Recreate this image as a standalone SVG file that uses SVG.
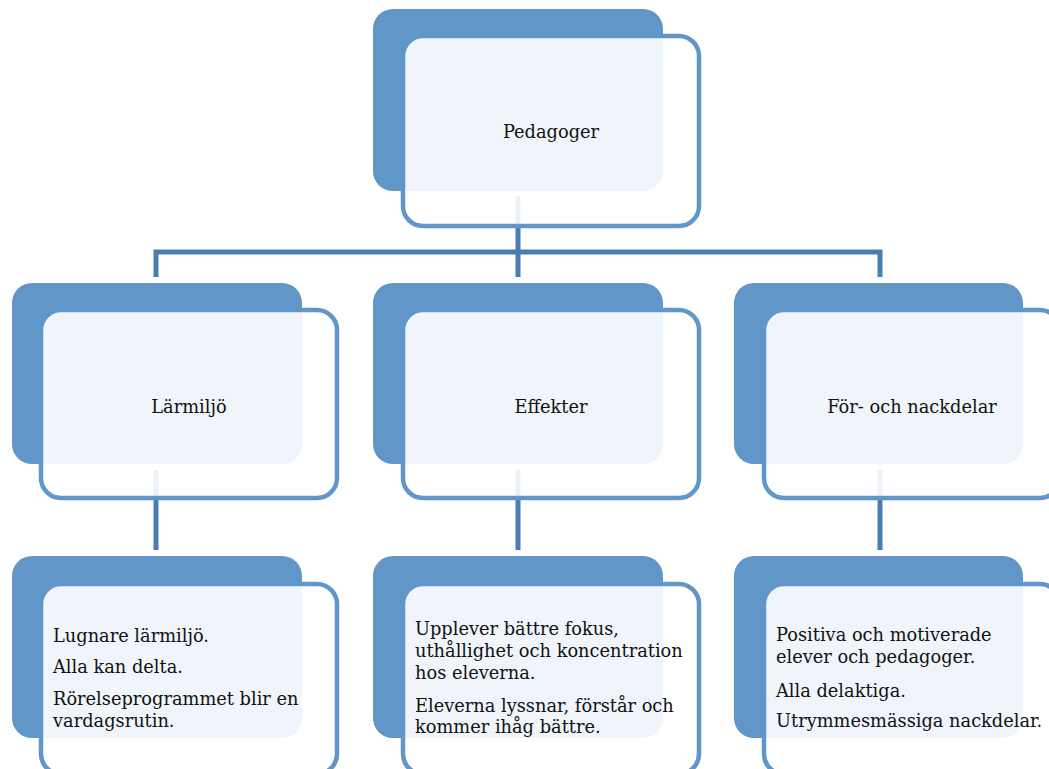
<svg xmlns="http://www.w3.org/2000/svg" width="1049" height="769" viewBox="0 0 1049 769">
<style>
.back{fill:#6196c9}
.front{fill:#ffffff;fill-opacity:0.9;stroke:#6196c9;stroke-width:4.5}
.conn{fill:none;stroke:#4a7eb3;stroke-width:5}
.t{font-family:"DejaVu Serif","Liberation Serif",serif;font-size:17.8px;fill:#111}
.c{text-anchor:middle}
</style>
<rect width="1049" height="769" fill="#ffffff"/>
<g id="connectors">
<path class="conn" d="M518,196 V252"/>
<path class="conn" d="M156,277 V252 H880 V277"/>
<path class="conn" d="M518,252 V277"/>
<path class="conn" d="M156,470 V550"/>
<path class="conn" d="M518,470 V550"/>
<path class="conn" d="M880,470 V550"/>
</g>
<g id="pedagoger">
<rect class="back" x="373" y="9" width="290" height="182" rx="20"/>
<rect class="front" x="403" y="36" width="296" height="190" rx="20"/>
<text class="t c" x="551" y="138">Pedagoger</text>
</g>
<g id="larmiljo">
<rect class="back" x="12" y="283" width="290" height="181" rx="20"/>
<rect class="front" x="41" y="310" width="296" height="188" rx="20"/>
<text class="t c" x="189" y="413">Lärmiljö</text>
</g>
<g id="effekter">
<rect class="back" x="373" y="283" width="290" height="181" rx="20"/>
<rect class="front" x="403" y="310" width="296" height="188" rx="20"/>
<text class="t c" x="551" y="413">Effekter</text>
</g>
<g id="for-och-nackdelar">
<rect class="back" x="734" y="283" width="289" height="181" rx="20"/>
<rect class="front" x="764" y="310" width="296" height="188" rx="20"/>
<text class="t c" x="912" y="413">För- och nackdelar</text>
</g>
<g id="larmiljo-detaljer">
<rect class="back" x="12" y="556" width="290" height="182" rx="20"/>
<rect class="front" x="41" y="584" width="296" height="190" rx="20"/>
<text class="t" x="53" y="642">Lugnare lärmiljö.</text>
<text class="t" x="53" y="673">Alla kan delta.</text>
<text class="t" x="53" y="705">Rörelseprogrammet blir en</text>
<text class="t" x="53" y="727">vardagsrutin.</text>
</g>
<g id="effekter-detaljer">
<rect class="back" x="373" y="556" width="290" height="182" rx="20"/>
<rect class="front" x="403" y="584" width="296" height="190" rx="20"/>
<text class="t" x="415" y="635">Upplever bättre fokus,</text>
<text class="t" x="415" y="657">uthållighet och koncentration</text>
<text class="t" x="415" y="679">hos eleverna.</text>
<text class="t" x="415" y="712">Eleverna lyssnar, förstår och</text>
<text class="t" x="415" y="733">kommer ihåg bättre.</text>
</g>
<g id="for-och-nackdelar-detaljer">
<rect class="back" x="734" y="556" width="289" height="182" rx="20"/>
<rect class="front" x="764" y="584" width="296" height="190" rx="20"/>
<text class="t" x="776" y="641">Positiva och motiverade</text>
<text class="t" x="776" y="663">elever och pedagoger.</text>
<text class="t" x="776" y="697">Alla delaktiga.</text>
<text class="t" x="776" y="727">Utrymmesmässiga nackdelar.</text>
</g>
</svg>
